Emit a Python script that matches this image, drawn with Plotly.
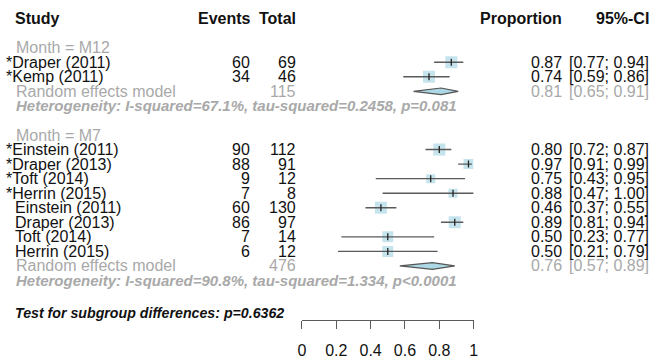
import plotly.graph_objects as go

# ---------------- data ----------------
studies = ["Draper (2011)", "Kemp (2011)",
           "Einstein (2011)", "Draper (2013)", "Toft (2014)", "Herrin (2015)",
           "Einstein (2011)", "Draper (2013)", "Toft (2014)", "Herrin (2015)"]
starred = [True, True, True, True, True, True, False, False, False, False]
groups = ["M12", "M12", "M7", "M7", "M7", "M7", "M7", "M7", "M7", "M7"]
events = [60, 34, 90, 88, 9, 7, 60, 86, 7, 6]
totals = [69, 46, 112, 91, 12, 8, 130, 97, 14, 12]
proportion = [0.87, 0.74, 0.80, 0.97, 0.75, 0.88, 0.46, 0.89, 0.50, 0.50]
ci_low = [0.77, 0.59, 0.72, 0.91, 0.43, 0.47, 0.37, 0.81, 0.23, 0.21]
ci_high = [0.94, 0.86, 0.87, 0.99, 0.95, 1.00, 0.55, 0.94, 0.77, 0.79]

subgroups = ["M12", "M7"]
pooled_total = [115, 476]
pooled_est = [0.81, 0.76]
pooled_low = [0.65, 0.57]
pooled_high = [0.91, 0.89]
heterogeneity = ["Heterogeneity: I-squared=67.1%, tau-squared=0.2458, p=0.081",
                 "Heterogeneity: I-squared=90.8%, tau-squared=1.334, p<0.0001"]
subgroup_test = "Test for subgroup differences: p=0.6362"
axis_ticks = [0, 0.2, 0.4, 0.6, 0.8, 1]
axis_ticktext = ["0", "0.2", "0.4", "0.6", "0.8", "1"]

# ---------------- styling ----------------
W, H = 672, 361
FONT = "Liberation Sans, Arial, Helvetica, sans-serif"
BLACK = "#111111"
GRAY = "#a9a9a9"
BLUE = "#add8e6"
LINE = "#5a5a5a"
square_px = [12, 12, 12, 10, 9, 9, 12, 12, 11, 11]

ROW0, DY = 18.6, 14.55       # pixel centre of row 0 and row height
AX_PIX = 320                  # pixel y of the x-axis line
X0_PIX, X1_PIX = 302, 476     # pixel x of proportion 0 and 1


def px(x):
    return x / W


# assign rows
row_study = []
row_group_label = []
row_pooled = []
row_het = []
r = 2
for g in subgroups:
    row_group_label.append(r)
    r += 1
    for i, gg in enumerate(groups):
        if gg == g:
            row_study.append((i, r))
            r += 1
    row_pooled.append(r)
    r += 1
    row_het.append(r)
    r += 2
row_test = r + 0.25

fig = go.Figure()

# squares
xs = [proportion[i] for i, _ in row_study]
ys = [rr for _, rr in row_study]
fig.add_trace(go.Scatter(
    x=xs, y=ys, mode="markers",
    marker=dict(symbol="square", size=[square_px[i] for i, _ in row_study],
                color=BLUE, line=dict(width=0)),
    hoverinfo="skip", showlegend=False))

# CI lines
lx, ly = [], []
for i, rr in row_study:
    lx += [ci_low[i], ci_high[i], None]
    ly += [rr, rr, None]
fig.add_trace(go.Scatter(x=lx, y=ly, mode="lines",
                         line=dict(color=LINE, width=1.4),
                         hoverinfo="skip", showlegend=False))

# centre ticks
fig.add_trace(go.Scatter(
    x=xs, y=ys, mode="markers",
    marker=dict(symbol="line-ns", size=5, line=dict(color="#222222", width=1.3)),
    hoverinfo="skip", showlegend=False))

# diamonds
h = 0.23
for k in range(len(subgroups)):
    rr = row_pooled[k]
    fig.add_trace(go.Scatter(
        x=[pooled_low[k], pooled_est[k], pooled_high[k], pooled_est[k], pooled_low[k]],
        y=[rr, rr - h, rr, rr + h, rr],
        mode="lines", fill="toself", fillcolor=BLUE,
        line=dict(color="#555555", width=1.2),
        hoverinfo="skip", showlegend=False))

ann = []


def text(x, y, s, anchor="left", color=BLACK, size=16, bold=False, italic=False):
    if bold:
        s = "<b>" + s + "</b>"
    if italic:
        s = "<i>" + s + "</i>"
    ann.append(dict(x=px(x), y=y, xref="paper", yref="y", text=s, showarrow=False,
                    xanchor=anchor, yanchor="middle", borderpad=0,
                    font=dict(family=FONT, size=size, color=color)))


# headers
text(10, 0, "Study", bold=True)
text(251, 0, "Events", anchor="right", bold=True)
text(297, 0, "Total", anchor="right", bold=True)
text(567, 0, "Proportion", anchor="right", bold=True)
text(655, 0, "95%-CI", anchor="right", bold=True)

for k, g in enumerate(subgroups):
    text(11, row_group_label[k], "Month = " + g, color=GRAY)
    rr = row_pooled[k]
    text(11, rr, "Random effects model", color=GRAY)
    text(297, rr, str(pooled_total[k]), anchor="right", color=GRAY)
    text(567, rr, f"{pooled_est[k]:.2f}", anchor="right", color=GRAY)
    text(655, rr, f"[{pooled_low[k]:.2f}; {pooled_high[k]:.2f}]", anchor="right", color=GRAY)
    text(11, row_het[k], heterogeneity[k], color=GRAY, size=15, bold=True, italic=True)

for i, rr in row_study:
    if starred[i]:
        text(1, rr, "*" + studies[i])
    else:
        text(10, rr, studies[i])
    text(250, rr, str(events[i]), anchor="right")
    text(297, rr, str(totals[i]), anchor="right")
    text(567, rr, f"{proportion[i]:.2f}", anchor="right")
    text(655, rr, f"[{ci_low[i]:.2f}; {ci_high[i]:.2f}]", anchor="right")

text(10, row_test, subgroup_test, size=14.2, bold=True, italic=True)

y_top = -ROW0 / DY
y_bot = (AX_PIX - ROW0) / DY

fig.update_layout(
    width=W, height=H, margin=dict(l=0, r=0, t=0, b=0),
    paper_bgcolor="white", plot_bgcolor="white",
    annotations=ann,
    xaxis=dict(domain=[X0_PIX / W, X1_PIX / W], range=[0, 1],
               showgrid=False, zeroline=False, showline=True,
               linecolor=LINE, linewidth=1.2,
               ticks="outside", ticklen=8, tickcolor=LINE, tickwidth=1.2,
               tickvals=axis_ticks, ticktext=axis_ticktext,
               ticklabelstandoff=8,
               tickfont=dict(family=FONT, size=16, color=BLACK)),
    yaxis=dict(domain=[(H - AX_PIX) / H, 1], range=[y_bot, y_top],
               visible=False),
    showlegend=False,
)

fig.write_html("out.html")
